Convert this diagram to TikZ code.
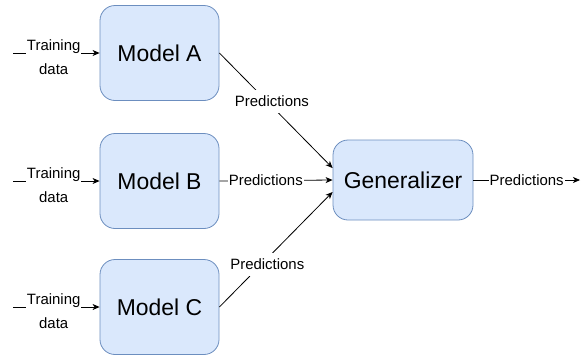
\documentclass[tikz,border=0pt]{standalone}
\usepackage{fontspec}
\setmainfont{Liberation Sans}
\usetikzlibrary{arrows.meta}
\definecolor{boxfill}{HTML}{DAE8FC}
\definecolor{boxline}{HTML}{6C8EBF}

\begin{document}
\begin{tikzpicture}[x=1bp,y=-1bp,line width=0.8bp,
                    model/.style={draw=boxline,fill=boxfill,rounded corners=15bp,
                      minimum width=119bp,minimum height=95bp,
                      font=\fontsize{23}{27}\selectfont},
                    lbl/.style={fill=white,inner sep=1bp,
                      font=\fontsize{15}{18}\selectfont},
                    >={Stealth[length=7bp,width=6bp,inset=2bp]}]
  \useasboundingbox (0,0) rectangle (587,359);
  % three base models, one generalizer on the right
  \node[model] (ma) at (159.5,53) {Model A};
  \node[model] (mb) at (159.5,181) {Model B};
  \node[model] (mc) at (159.5,307) {Model C};
  \node[model,minimum width=140bp,minimum height=80bp] (gen) at (403,180) {Generalizer};
  \coordinate (ta) at (13,53);
  \coordinate (tb) at (13,181);
  \coordinate (tc) at (13,307);
  \coordinate (out) at (580,180);
  \foreach \t/\m in {ta/ma,tb/mb,tc/mc}{
    \draw[->] (\t) -- node[lbl,align=center,pos=0.47,yshift=-4bp]{Training\\[6bp]data} (\m);}
  \draw[->] (ma.east) -- node[lbl,inner ysep=6bp,pos=0.42,xshift=5bp]{Predictions} ([yshift=12bp]gen.west);
  \draw[->] (mb.east) -- node[lbl,pos=0.41]{Predictions} (gen.west);
  \draw[->] (mc.east) -- node[lbl,inner ysep=6bp,pos=0.37,xshift=6bp]{Predictions} ([yshift=-12bp]gen.west);
  \draw[->] (gen.east) -- node[lbl]{Predictions} (out);
\end{tikzpicture}
\end{document}
